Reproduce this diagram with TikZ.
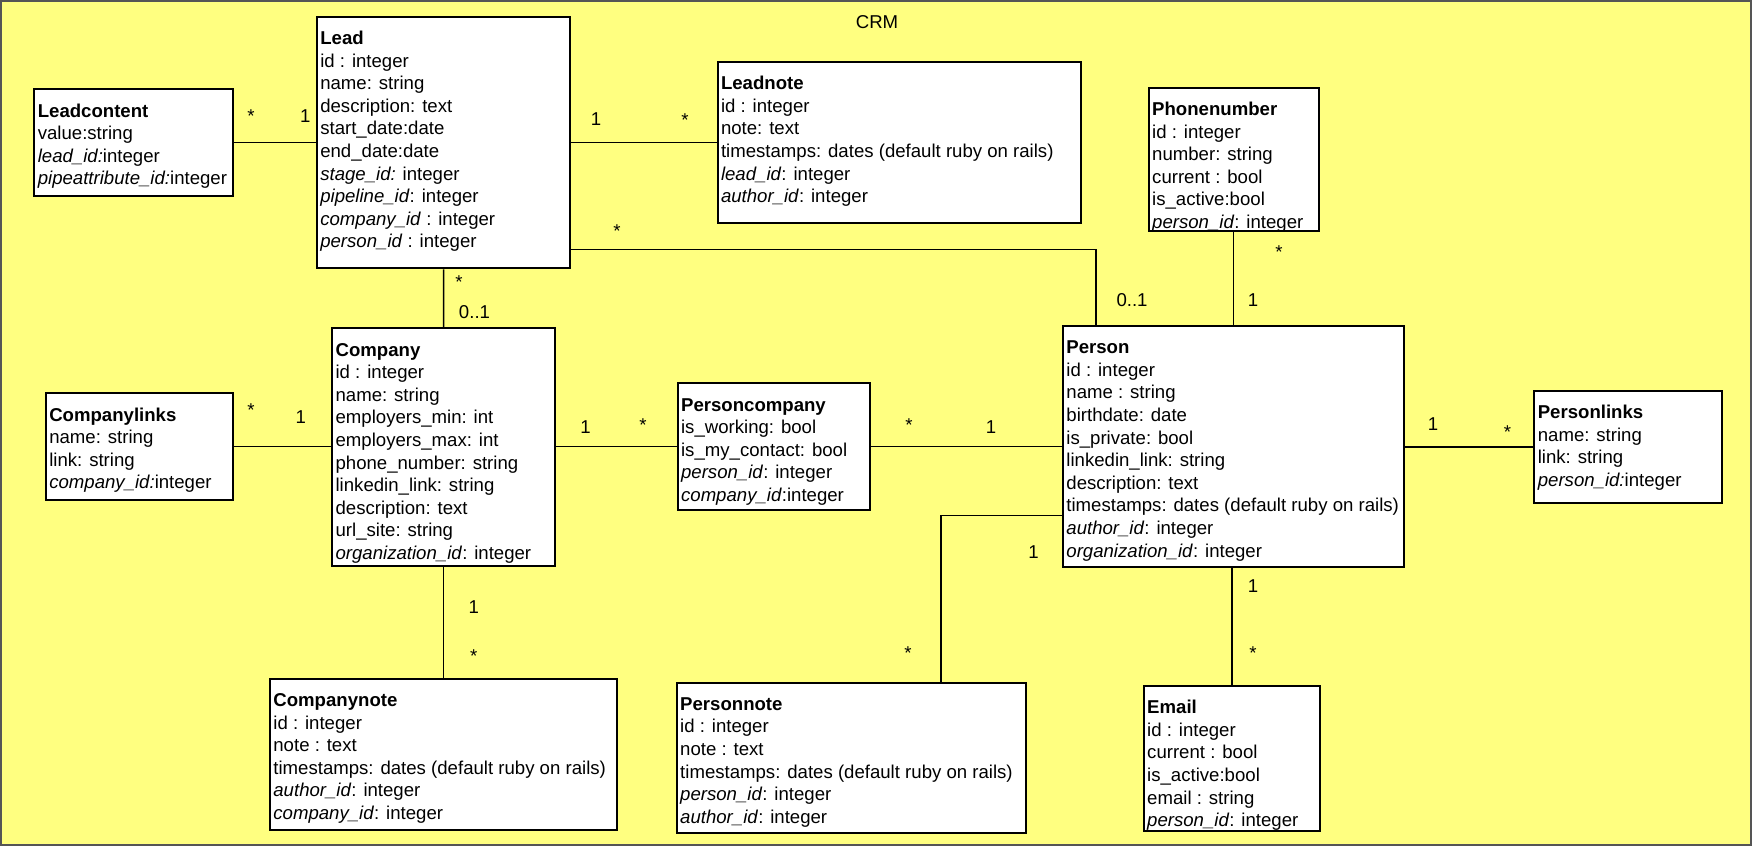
\documentclass[tikz,border=0pt]{standalone}
\usepackage{fontspec}
\setmainfont{Liberation Sans}
\usetikzlibrary{calc, fit}
\definecolor{crmyellow}{HTML}{FFFF80}
\definecolor{crmframe}{HTML}{555555}
\newcommand{\fk}[1]{\textit{#1}}

\begin{document}
\begin{tikzpicture}[x=0.5pt, y=-0.5pt,
  classbox/.style={draw=black, fill=white, line width=1pt, inner sep=0pt},
  attrs/.style={anchor=north west, align=left, inner sep=0pt,
    font=\fontsize{9.3}{11.3}\selectfont},
  assoc/.style={draw=black, line width=0.8pt},
  mult/.style={font=\fontsize{9.3}{11.3}\selectfont, inner sep=0pt},
  star/.style={mult, yshift=-2pt}]
  \useasboundingbox (0,0) rectangle (1754,848);
  \fill[white] (0,0) rectangle (1754,848);

  % Package frame
  \draw[fill=crmyellow, draw=crmframe, line width=1pt] (0.5,1) rectangle (1751,845);
  \node[mult] (crm) at (877,22) {CRM};

  % Class boxes
  \node[classbox, fit={(34.4,89.3) (233.4,196)}] (leadcontent) {};
  \node[classbox, fit={(316.9,16.7) (570.2,268.3)}] (lead) {};
  \node[classbox, fit={(717.6,62) (1081.2,222.7)}] (leadnote) {};
  \node[classbox, fit={(1148.8,87.7) (1318.5,231.3)}] (phonenumber) {};
  \node[classbox, fit={(45.9,393.3) (233.4,500)}] (companylinks) {};
  \node[classbox, fit={(332.2,328.3) (555,566)}] (company) {};
  \node[classbox, fit={(677.7,383.3) (869.8,510)}] (personcompany) {};
  \node[classbox, fit={(1063,326) (1404.2,567.3)}] (person) {};
  \node[classbox, fit={(1534.4,391) (1722,502.7)}] (personlinks) {};
  \node[classbox, fit={(270,678.7) (617.4,830)}] (companynote) {};
  \node[classbox, fit={(676.8,682.5) (1025.8,833.4)}] (personnote) {};
  \node[classbox, fit={(1143.8,686) (1319.8,830.7)}] (email) {};

  % Attributes
  \node[attrs] (leadcontent-t) at ([shift={(4,12.5)}]leadcontent.north west)
    {\strut\textbf{Leadcontent}\\value:string\\\fk{lead\_id:}integer\\
     \fk{pipeattribute\_id:}integer};
  \node[attrs] (lead-t) at ([shift={(4,12.5)}]lead.north west)
    {\strut\textbf{Lead}\\id : integer\\name: string\\description: text\\
     start\_date:date\\end\_date:date\\\fk{stage\_id:} integer\\
     \fk{pipeline\_id}: integer\\\fk{company\_id} : integer\\
     \fk{person\_id} : integer};
  \node[attrs] (leadnote-t) at ([shift={(4,12.5)}]leadnote.north west)
    {\strut\textbf{Leadnote}\\id : integer\\note: text\\
     timestamps: dates (default ruby on rails)\\\fk{lead\_id}: integer\\
     \fk{author\_id}: integer};
  \node[attrs] (phonenumber-t) at ([shift={(4,12.5)}]phonenumber.north west)
    {\strut\textbf{Phonenumber}\\id : integer\\number: string\\current : bool\\
     is\_active:bool\\\fk{person\_id}: integer};
  \node[attrs] (companylinks-t) at ([shift={(4,12.5)}]companylinks.north west)
    {\strut\textbf{Companylinks}\\name: string\\link: string\\
     \fk{company\_id:}integer};
  \node[attrs] (company-t) at ([shift={(4,12.5)}]company.north west)
    {\strut\textbf{Company}\\id : integer\\name: string\\employers\_min: int\\
     employers\_max: int\\phone\_number: string\\linkedin\_link: string\\
     description: text\\url\_site: string\\\fk{organization\_id}: integer};
  \node[attrs] (personcompany-t) at ([shift={(4,12.5)}]personcompany.north west)
    {\strut\textbf{Personcompany}\\is\_working: bool\\is\_my\_contact: bool\\
     \fk{person\_id}: integer\\\fk{company\_id}:integer};
  \node[attrs] (person-t) at ([shift={(4,12.5)}]person.north west)
    {\strut\textbf{Person}\\id : integer\\name : string\\birthdate: date\\
     is\_private: bool\\linkedin\_link: string\\description: text\\
     timestamps: dates (default ruby on rails)\\\fk{author\_id}: integer\\
     \fk{organization\_id}: integer};
  \node[attrs] (personlinks-t) at ([shift={(4,12.5)}]personlinks.north west)
    {\strut\textbf{Personlinks}\\name: string\\link: string\\
     \fk{person\_id:}integer};
  \node[attrs] (companynote-t) at ([shift={(4,12.5)}]companynote.north west)
    {\strut\textbf{Companynote}\\id : integer\\note : text\\
     timestamps: dates (default ruby on rails)\\\fk{author\_id}: integer\\
     \fk{company\_id}: integer};
  \node[attrs] (personnote-t) at ([shift={(4,12.5)}]personnote.north west)
    {\strut\textbf{Personnote}\\id : integer\\note : text\\
     timestamps: dates (default ruby on rails)\\\fk{person\_id}: integer\\
     \fk{author\_id}: integer};
  \node[attrs] (email-t) at ([shift={(4,12.5)}]email.north west)
    {\strut\textbf{Email}\\id : integer\\current : bool\\is\_active:bool\\
     email : string\\\fk{person\_id}: integer};

  % Associations
  \draw[assoc] (leadcontent.east) -- (leadcontent.east -| lead.west);
  \draw[assoc] (leadnote.west -| lead.east) -- (leadnote.west);
  \draw[assoc] ($(lead.south east)+(0,-20)$) -| ($(person.north west)+(34,0)$);
  \draw[assoc] (lead.south) -- (company.north);
  \draw[assoc] (phonenumber.south) -- (phonenumber.south |- person.north);
  \draw[assoc] (companylinks.east) -- (companylinks.east -| company.west);
  \draw[assoc] (personcompany.west -| company.east) -- (personcompany.west);
  \draw[assoc] (personcompany.east) -- (personcompany.east -| person.west);
  \draw[assoc] (personlinks.west -| person.east) -- (personlinks.west);
  \draw[assoc] (company.south) -- (company.south |- companynote.north);
  \draw[assoc] ($(person.south west)+(0,-53)$) -| ($(personnote.north)+(89.5,0)$);
  \draw[assoc] (email.north |- person.south) -- (email.north);

  % Multiplicities
  \node[star] (m-lc-a) at (251,112) {*};
  \node[mult] (m-lc-b) at (305.4,116) {1};
  \node[mult] (m-ln-a) at (596,119) {1};
  \node[star] (m-ln-b) at (685,116) {*};
  \node[star] (m-lp-a) at (617,227) {*};
  \node[mult] (m-lp-b) at (1132,300) {0..1};
  \node[star] (m-lco-a) at (459,278) {*};
  \node[mult] (m-lco-b) at (474.5,311.7) {0..1};
  \node[star] (m-ph-a) at (1279,248) {*};
  \node[mult] (m-ph-b) at (1253,300) {1};
  \node[star] (m-cl-a) at (251,406) {*};
  \node[mult] (m-cl-b) at (300.8,417.3) {1};
  \node[mult] (m-pc-a) at (585.5,426.7) {1};
  \node[star] (m-pc-b) at (643,420.7) {*};
  \node[star] (m-pc-c) at (909,420.7) {*};
  \node[mult] (m-pc-d) at (991,426.7) {1};
  \node[mult] (m-pl-a) at (1433,424) {1};
  \node[star] (m-pl-b) at (1507.5,428.3) {*};
  \node[mult] (m-cn-a) at (473.7,607.3) {1};
  \node[star] (m-cn-b) at (473.7,651.7) {*};
  \node[mult] (m-pn-a) at (1033.6,552) {1};
  \node[star] (m-pn-b) at (908,649) {*};
  \node[mult] (m-em-a) at (1253,586) {1};
  \node[star] (m-em-b) at (1253,649) {*};
\end{tikzpicture}
\end{document}
